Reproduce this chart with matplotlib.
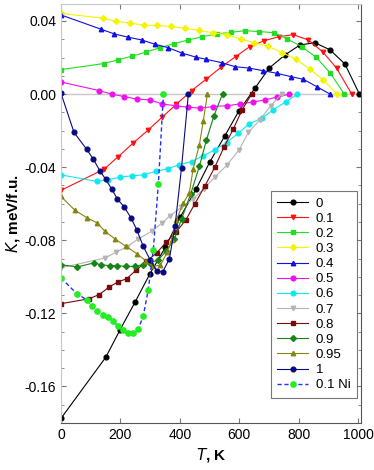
import matplotlib
matplotlib.use("Agg")
import matplotlib.pyplot as plt
import matplotlib.ticker as mticker

plt.rcParams["font.family"] = ["Liberation Sans", "DejaVu Sans"]
plt.rcParams["axes.unicode_minus"] = False

# x = 0 (Fe end) ... 1 ; K in meV/f.u. vs T in K
T_0 = [0, 151, 199, 249, 300, 352, 401, 455, 502, 552, 600, 653, 701, 754, 805, 855, 906, 956, 1005]
K_0 = [-0.1775, -0.144, -0.129, -0.114, -0.0982, -0.0837, -0.0675, -0.052, -0.0369, -0.0228, -0.009,
       0.0032, 0.0142, 0.0214, 0.0269, 0.0281, 0.0242, 0.0165, 0.0]

T_01 = [0, 146, 193, 243, 292, 341, 389, 440, 490, 539, 588, 636, 684, 734, 782, 833, 881, 928, 979]
K_01 = [-0.0527, -0.041, -0.0342, -0.0268, -0.0199, -0.0126, -0.0055, 0.0019, 0.0083, 0.0147, 0.0205,
        0.026, 0.0292, 0.0314, 0.0325, 0.0296, 0.0232, 0.0142, 0.0]

T_02 = [0, 144, 191, 238, 285, 333, 380, 429, 476, 524, 572, 620, 668, 717, 762, 810, 859, 906, 954]
K_02 = [0.0134, 0.0167, 0.0187, 0.0207, 0.0229, 0.0254, 0.0276, 0.0296, 0.0314, 0.0329, 0.0338,
        0.0347, 0.0342, 0.0336, 0.0302, 0.026, 0.0202, 0.0117, 0.0]

T_03 = [0, 142, 185, 232, 279, 325, 370, 417, 465, 512, 558, 605, 650, 697, 744, 791, 838, 883, 929]
K_03 = [0.0442, 0.0415, 0.0398, 0.039, 0.0376, 0.0376, 0.037, 0.036, 0.0348, 0.0336, 0.0325,
        0.0302, 0.0281, 0.0262, 0.0227, 0.0192, 0.0136, 0.0078, 0.0]

T_04 = [0, 135, 180, 227, 272, 316, 361, 408, 455, 490, 541, 586, 634, 681, 726, 773, 816, 861, 906]
K_04 = [0.0433, 0.0355, 0.0329, 0.0311, 0.0296, 0.0273, 0.0254, 0.0224, 0.0202, 0.019, 0.0172,
        0.015, 0.0142, 0.0128, 0.0114, 0.0096, 0.0081, 0.0041, 0.0]

T_05 = [0, 129, 171, 213, 255, 300, 341, 386, 429, 468, 513, 558, 603, 645, 687, 726, 769]
K_05 = [0.0066, 0.0019, 0.0, -0.0014, -0.0027, -0.0032, -0.0054, -0.0064, -0.0072, -0.0077, -0.0068,
        -0.0064, -0.0054, -0.0044, -0.0032, -0.0017, 0.0]

T_06 = [0, 120, 159, 199, 240, 279, 319, 359, 398, 440, 479, 518, 558, 597, 634, 676, 715, 758, 796]
K_06 = [-0.0442, -0.0478, -0.0469, -0.0454, -0.0447, -0.0442, -0.0423, -0.0409, -0.0387, -0.0369,
        -0.0338, -0.0305, -0.0265, -0.0214, -0.0163, -0.0132, -0.0086, -0.0041, 0.0]

T_07 = [0, 148, 185, 221, 260, 305, 341, 367, 405, 445, 480, 518, 558, 600, 631, 670, 706, 743]
K_07 = [-0.0951, -0.0897, -0.0866, -0.0837, -0.0793, -0.0751, -0.0705, -0.0666, -0.062, -0.0574,
        -0.052, -0.0454, -0.039, -0.0305, -0.021, -0.0141, -0.0064, 0.0]

T_08 = [0, 95, 129, 163, 193, 221, 252, 288, 322, 354, 387, 421, 451, 485, 518, 549, 580, 610, 642]
K_08 = [-0.1147, -0.112, -0.1097, -0.1055, -0.1027, -0.1011, -0.0965, -0.0915, -0.087, -0.0811,
        -0.0757, -0.0687, -0.06, -0.0502, -0.04, -0.029, -0.0192, -0.0086, 0.0]

T_09 = [0, 55, 110, 135, 165, 190, 218, 249, 275, 300, 328, 354, 382, 406, 437, 466, 490, 515, 544]
K_09 = [-0.0934, -0.0946, -0.0924, -0.0934, -0.0939, -0.0939, -0.0943, -0.0943, -0.0934, -0.0925,
        -0.0906, -0.086, -0.0793, -0.0684, -0.0545, -0.0396, -0.025, -0.0119, 0.0]

T_095 = [0, 47, 89, 122, 148, 182, 219, 255, 288, 311, 335, 358, 373, 389, 412, 432, 445, 466, 479, 493]
K_095 = [-0.056, -0.0636, -0.0678, -0.0705, -0.0751, -0.0793, -0.0833, -0.0873, -0.0915, -0.0943,
         -0.0935, -0.0866, -0.0797, -0.0687, -0.0596, -0.0542, -0.041, -0.0278, -0.015, 0.0]

T_1 = [0, 44, 86, 109, 131, 150, 171, 190, 213, 236, 255, 277, 300, 322, 342, 365, 384, 406, 429]
K_1 = [0.0005, -0.021, -0.0301, -0.0356, -0.042, -0.0465, -0.052, -0.0574, -0.0618, -0.0678, -0.0742,
       -0.0833, -0.0906, -0.0966, -0.0975, -0.0902, -0.0724, -0.0402, 0.0]

T_ni = [0, 53, 89, 105, 120, 140, 159, 176, 193, 210, 227, 243, 260, 277, 294, 311, 328, 345]
K_ni = [-0.1006, -0.1092, -0.1128, -0.116, -0.1189, -0.1207, -0.1219, -0.1243, -0.127, -0.1292,
        -0.1307, -0.1307, -0.1285, -0.1216, -0.107, -0.0851, -0.0491, 0.0]

SERIES = [
    ("0",    T_0,   K_0,   "#000000", "o"),
    ("0.1",  T_01,  K_01,  "#ff1010", "v"),
    ("0.2",  T_02,  K_02,  "#22dd22", "s"),
    ("0.3",  T_03,  K_03,  "#f4f400", "D"),
    ("0.4",  T_04,  K_04,  "#1010e0", "^"),
    ("0.5",  T_05,  K_05,  "#ee10ee", "o"),
    ("0.6",  T_06,  K_06,  "#10e8f0", "o"),
    ("0.7",  T_07,  K_07,  "#b4b4b4", "v"),
    ("0.8",  T_08,  K_08,  "#7a0a0a", "s"),
    ("0.9",  T_09,  K_09,  "#158515", "D"),
    ("0.95", T_095, K_095, "#858510", "^"),
    ("1",    T_1,   K_1,   "#0a0a80", "o"),
]
MSIZE = {"o": 3.4, "s": 3.2, "D": 3.0, "v": 3.2, "^": 3.2}

fig = plt.figure(figsize=(3.74, 4.70), dpi=100)
ax = fig.add_axes([0.163, 0.1, 0.802, 0.8915])

ax.axhline(0, color="#c8c8c8", linewidth=1.0, zorder=0)

for lab, t, k, c, mk in SERIES:
    ax.plot(t, k, color=c, marker=mk, markersize=MSIZE[mk], linewidth=0.8, label=lab)

ax.plot(T_ni, K_ni, color="#2030ff", linestyle=(0, (3, 2)), linewidth=1.0,
        marker="o", markersize=3.8, markerfacecolor="#22ee22", markeredgecolor="#22ee22",
        label="0.1 Ni")

ax.set_xlim(0, 1010)
ax.set_ylim(-0.18, 0.0493)
ax.xaxis.set_major_locator(mticker.MultipleLocator(200))
ax.yaxis.set_major_locator(mticker.MultipleLocator(0.04))
ax.yaxis.set_minor_locator(mticker.MultipleLocator(0.01))
ax.yaxis.set_major_formatter(mticker.FormatStrFormatter("%.2f"))
ax.tick_params(direction="in", which="both", top=True, right=True, labelsize=10,
               color="#777777", length=3.5)
ax.tick_params(which="minor", length=2.5)

for side in ("left", "top"):
    ax.spines[side].set_color("#c8c8c8")
for side in ("right", "bottom"):
    ax.spines[side].set_color("#555555")

ax.set_xlabel(r"$\bf{\it{T}}$, K", fontsize=11, fontweight="bold", labelpad=3)
ax.set_ylabel(r"$\bf{\it{K}}$, meV/f.u.", fontsize=11, fontweight="bold", labelpad=2)

leg = ax.legend(loc="lower right", fontsize=9.5, frameon=True, fancybox=False,
                handlelength=2.3, labelspacing=0.22, borderpad=0.5, borderaxespad=0,
                handletextpad=0.6, bbox_to_anchor=(0.987, 0.06))
leg.get_frame().set_edgecolor("#555555")
leg.get_frame().set_linewidth(0.8)

fig.savefig("out.png", dpi=100)
